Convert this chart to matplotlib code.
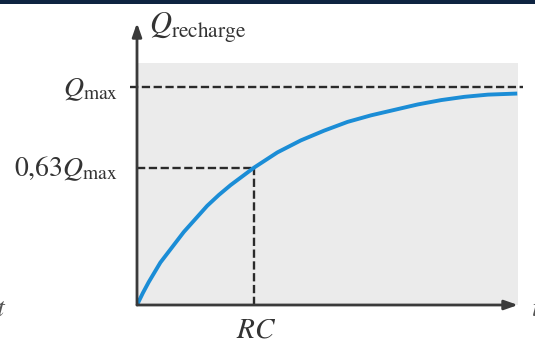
import matplotlib
matplotlib.use("Agg")
import matplotlib.pyplot as plt
from matplotlib.patches import Rectangle

# curve (t in units of RC, Q in units of Qmax)
T_PTS = [0.0, 0.05, 0.1, 0.2, 0.3, 0.4, 0.5, 0.6, 0.7, 0.8, 0.9, 1.0, 1.2,
         1.4, 1.6, 1.8, 2.0, 2.2, 2.4, 2.6, 2.8, 3.0, 3.25]
Q_PTS = [0.0, 0.055, 0.105, 0.195, 0.265, 0.335, 0.395, 0.455, 0.505, 0.55,
         0.59, 0.63, 0.70, 0.755, 0.80, 0.84, 0.87, 0.895, 0.92, 0.94, 0.955,
         0.965, 0.97]
RC = 1.0
Q_MAX = 1.0
Q_63 = 0.63

W, H = 535, 350
plt.rcParams["mathtext.fontset"] = "stix"
plt.rcParams["font.family"] = "Liberation Serif"

fig = plt.figure(figsize=(W / 100, H / 100), dpi=100)
fig.patch.set_facecolor("white")
# dark band along the top edge
fig.patches.append(Rectangle((0, 1 - 4 / H), 1, 4 / H, transform=fig.transFigure,
                             facecolor="#0e2441", edgecolor="none"))

# axes box in pixel coordinates: x 137..518, y 63..305
x0, x1, y0, y1 = 137, 518, 63, 305
ax = fig.add_axes([x0 / W, 1 - y1 / H, (x1 - x0) / W, (y1 - y0) / H])
ax.set_facecolor("#ebebeb")
px_per_rc = 117.0
px_per_q = 218.0
ax.set_xlim(0, (x1 - x0) / px_per_rc)
ax.set_ylim(0, (y1 - y0) / px_per_q)
for s in ax.spines.values():
    s.set_visible(False)
ax.set_xticks([])
ax.set_yticks([])

dash_kw = dict(color="#2a2a2a", lw=1.7, dashes=(3.5, 1.5), clip_on=False, zorder=2)
ax.plot([-0.06, 3.30], [Q_MAX, Q_MAX], **dash_kw)
ax.plot([0, RC], [Q_63, Q_63], **dash_kw)
ax.plot([RC, RC], [0, Q_63], **dash_kw)

ax.plot(T_PTS, Q_PTS, color="#1b8dd6", lw=2.8, solid_capstyle="butt",
        solid_joinstyle="round", zorder=3)

# axes with arrows
arrow_kw = dict(arrowstyle="-|>,head_length=0.8,head_width=0.28", color="#3a3a3a",
                lw=2.0, shrinkA=0, shrinkB=0)
ax.annotate("", xy=(0, (y1 - 23) / px_per_q), xytext=(0, 0), arrowprops=arrow_kw,
            annotation_clip=False, zorder=4)
ax.annotate("", xy=((x1 - x0) / px_per_rc, 0), xytext=(0, 0), arrowprops=arrow_kw,
            annotation_clip=False, zorder=4)

# labels
txt = "#333333"
fig.text(149 / W, 1 - 28 / H, r"$Q_{\mathrm{recharge}}$", fontsize=22,
         ha="left", va="center", color=txt)
fig.text(118 / W, 1 - 90 / H, r"$Q_{\mathrm{max}}$", fontsize=20,
         ha="right", va="center", color=txt)
fig.text(118 / W, 1 - 169 / H, r"$0{,}63Q_{\mathrm{max}}$", fontsize=20,
         ha="right", va="center", color=txt)
fig.text(256 / W, 1 - 331 / H, r"$RC$", fontsize=21, ha="center", va="center",
         color=txt)
# letters cut off at the picture edges, as in the source
fig.text(6 / W, 1 - 310 / H, r"$t$", fontsize=20, ha="right", va="center",
         color="#555555")
fig.text(531 / W, 1 - 310 / H, r"$t$", fontsize=20, ha="left", va="center",
         color="#555555")

fig.savefig("out.png", dpi=100)
